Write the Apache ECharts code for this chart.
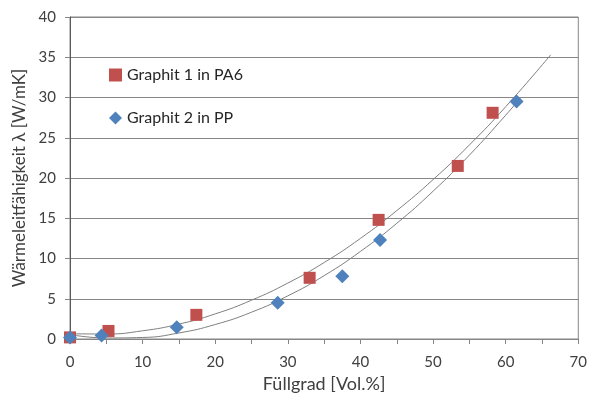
<!DOCTYPE html>
<html>
<head>
<meta charset="utf-8">
<script src="https://cdn.jsdelivr.net/npm/echarts@6/dist/echarts.min.js"></script>
<style>
  html, body { margin: 0; padding: 0; background: #fff; }
  #chart { width: 590px; height: 401px; }
</style>
</head>
<body>
<div id="chart"></div>
<script>
// Messwerte
var pa6X = [0, 5.3, 17.4, 33, 42.5, 53.4, 58.2];
var pa6Y = [0.2, 1.0, 3.0, 7.6, 14.8, 21.5, 28.1];
var ppX = [0, 4.35, 14.7, 28.6, 37.5, 42.7, 61.5];
var ppY = [0.2, 0.45, 1.45, 4.5, 7.8, 12.3, 29.5];

// Trendlinien
var trendPa6X = [0, 5, 10, 15, 20, 25, 30, 35, 40, 45, 50, 55, 60, 66.2];
var trendPa6Y = [0.65, 0.62, 1.02, 1.85, 3.12, 4.82, 6.95, 9.5, 12.5, 15.95, 19.8, 24.1, 28.85, 35.3];
var trendPpX = [0, 5, 10, 15, 20, 25, 30, 35, 40, 45, 50, 55, 60, 62];
var trendPpY = [0.55, 0.13, 0.19, 0.75, 1.8, 3.33, 5.36, 7.87, 10.88, 14.37, 18.36, 22.84, 27.8, 29.9];

function paare(xs, ys) {
	var out = [];
	for (var i = 0; i < xs.length; i++) {
		out.push([xs[i], ys[i]]);
	}
	return out;
}

var font = 'Lato, "Open Sans", sans-serif';
var textColor = '#404040';

var chart = echarts.init(document.getElementById('chart'));

var options = {
	animation: false,
	grid: {
		left: 70, right: 10, top: 17, bottom: 62,
		show: true,
		borderColor: '#868686',
		borderWidth: 1
	},
	legend: {
		orient: 'vertical',
		left: 104,
		top: 62,
		itemGap: 27,
		itemWidth: 13,
		itemHeight: 13,
		data: ['Graphit 1 in PA6', 'Graphit 2 in PP'],
		textStyle: { fontFamily: font, fontSize: 16, color: '#262626' }
	},
	xAxis: {
		type: 'value',
		min: 0, max: 70, interval: 5,
		name: 'Füllgrad [Vol.%]',
		nameLocation: 'middle',
		nameGap: 35,
		nameTextStyle: { fontFamily: font, fontSize: 18, color: textColor },
		axisLine: { onZero: false, lineStyle: { color: '#868686' } },
		axisTick: { show: true, length: 5, lineStyle: { color: '#868686' } },
		axisLabel: {
			margin: 16,
			fontFamily: font, fontSize: 15, color: textColor,
			formatter: function (v) { return v % 10 === 0 ? String(v) : ''; }
		},
		splitLine: { show: false }
	},
	yAxis: {
		type: 'value',
		min: 0, max: 40, interval: 5,
		name: 'Wärmeleitfähigkeit λ [W/mK]',
		nameLocation: 'middle',
		nameGap: 32,
		nameTextStyle: { fontFamily: font, fontSize: 17, color: textColor },
		axisLine: { show: true, onZero: false, lineStyle: { color: '#595959' } },
		axisTick: { show: true, length: 5, lineStyle: { color: '#868686' } },
		axisLabel: { margin: 14, fontFamily: font, fontSize: 15, color: textColor },
		splitLine: { show: true, lineStyle: { color: '#868686', width: 1 } }
	},
	series: [
		{
			name: 'Trend PA6',
			type: 'line',
			data: paare(trendPa6X, trendPa6Y),
			smooth: true,
			showSymbol: false,
			lineStyle: { color: '#7f7f7f', width: 1 },
			z: 1
		},
		{
			name: 'Trend PP',
			type: 'line',
			data: paare(trendPpX, trendPpY),
			smooth: true,
			showSymbol: false,
			lineStyle: { color: '#7f7f7f', width: 1 },
			z: 1
		},
		{
			name: 'Graphit 1 in PA6',
			type: 'scatter',
			data: paare(pa6X, pa6Y),
			symbol: 'rect',
			symbolSize: 12,
			itemStyle: { color: '#C0504D', opacity: 1 },
			z: 3
		},
		{
			name: 'Graphit 2 in PP',
			type: 'scatter',
			data: paare(ppX, ppY),
			symbol: 'diamond',
			symbolSize: 14,
			itemStyle: { color: '#4F81BD', opacity: 1 },
			z: 4
		}
	]
};

chart.setOption(options);
</script>
</body>
</html>
